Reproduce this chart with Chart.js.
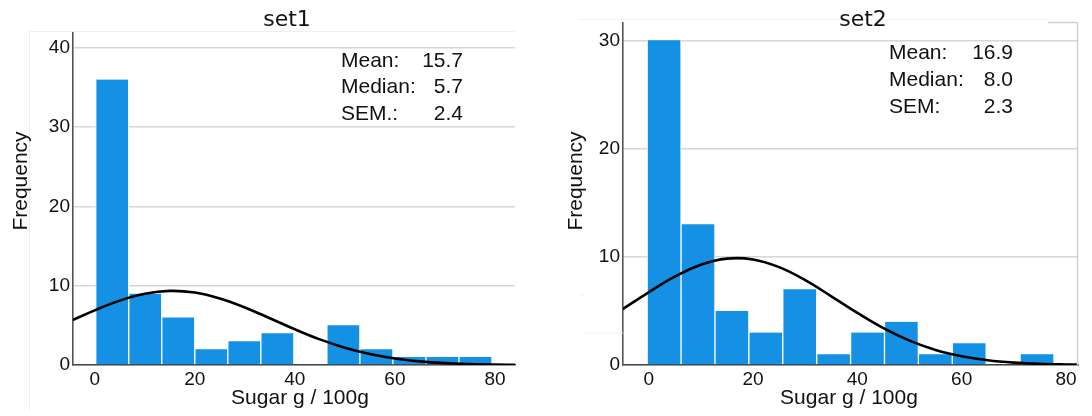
<!DOCTYPE html>
<html>
<head>
<meta charset="utf-8">
<script src="https://cdn.jsdelivr.net/npm/chart.js@4/dist/chart.umd.min.js"></script>
<style>
  html, body { margin: 0; padding: 0; background: #fff; }
  #wrap { position: relative; width: 1092px; height: 416px; }
  canvas { position: absolute; top: 0; }
  #c1 { left: 0; }
  #c2 { left: 546px; }
</style>
</head>
<body>
<div id="wrap">
  <canvas id="c1" width="546" height="416"></canvas>
  <canvas id="c2" width="546" height="416"></canvas>
</div>
<script>
// ---- data ----
const titles = ["set1", "set2"];
const xAxisTitle = "Sugar g / 100g";
const yAxisTitle = "Frequency";
const xTicks = [0, 20, 40, 60, 80];

const set1BinCenters = [3.5, 10.1, 16.7, 23.3, 29.9, 36.5, 43.1, 49.7, 56.3, 62.9, 69.5, 76.1];
const set1Counts     = [36, 9, 6, 2, 3, 4, 0, 5, 2, 1, 1, 1];
const set2BinCenters = [2.95, 9.45, 15.95, 22.45, 28.95, 35.45, 41.95, 48.45, 54.95, 61.45, 67.95, 74.45];
const set2Counts     = [30, 13, 5, 3, 7, 1, 3, 4, 1, 2, 0, 1];

const curveX     = [-5, 0, 5, 10, 15, 20, 25, 30, 35, 40, 45, 50, 55, 60, 65, 70, 75, 80, 85];
const set1CurveY = [5.50, 6.89, 8.12, 8.98, 9.35, 9.14, 8.40, 7.26, 5.90, 4.50, 3.23, 2.18, 1.38, 0.82, 0.46, 0.24, 0.12, 0.056, 0.024];
const set2CurveY = [5.17, 6.72, 8.16, 9.27, 9.83, 9.75, 9.04, 7.84, 6.35, 4.81, 3.40, 2.25, 1.39, 0.81, 0.44, 0.22, 0.10, 0.046, 0.019];

const statLabels = ["Mean:", "Median:", "SEM.:"];
const set1Stats  = ["15.7", "5.7", "2.4"];
const statLabels2 = ["Mean:", "Median:", "SEM:"];
const set2Stats  = ["16.9", "8.0", "2.3"];

const set1YTicks = [0, 10, 20, 30, 40];
const set2YTicks = [0, 10, 20, 30];

// ---- styling ----
const BAR_COLOR = "#1490e5";
const SANS = "'Liberation Sans', Arial, sans-serif";

function textPlugin(cfg) {
  return {
    id: "texts",
    afterDraw(chart) {
      const ctx = chart.ctx;
      ctx.save();
      ctx.strokeStyle = cfg.frameColor;
      ctx.lineWidth = 1;
      ctx.beginPath();
      cfg.frame.forEach(seg => { ctx.moveTo(seg[0], seg[1]); ctx.lineTo(seg[2], seg[3]); });
      ctx.stroke();
      if (cfg.strongFrame) {
        ctx.strokeStyle = "#cfcfcf";
        ctx.lineWidth = 1.5;
        ctx.beginPath();
        cfg.strongFrame.forEach(seg => { ctx.moveTo(seg[0], seg[1]); ctx.lineTo(seg[2], seg[3]); });
        ctx.stroke();
      }
      ctx.fillStyle = "#111";
      // title
      ctx.font = "22px 'DejaVu Sans', sans-serif";
      ctx.textAlign = "center";
      ctx.textBaseline = "alphabetic";
      ctx.fillText(cfg.title, cfg.titleX, cfg.titleBase);
      // x-axis title
      ctx.textBaseline = "middle";
      ctx.font = "21px " + SANS;
      ctx.fillText(xAxisTitle, cfg.xTitleX, cfg.xTitleY);
      // y-axis title
      ctx.save();
      ctx.translate(cfg.yTitleX, cfg.yTitleY);
      ctx.rotate(-Math.PI / 2);
      ctx.fillText(yAxisTitle, 0, 0);
      ctx.restore();
      // stats
      ctx.textBaseline = "alphabetic";
      ctx.font = "21px " + SANS;
      cfg.statLabels.forEach((lab, i) => {
        const y = cfg.statBase + i * cfg.statDy;
        ctx.textAlign = "left";
        ctx.fillText(lab, cfg.statLeft, y);
        ctx.textAlign = "right";
        ctx.fillText(cfg.statValues[i], cfg.statRight, y);
      });
      ctx.restore();
    }
  };
}

function makeChart(id, centers, counts, curveY, yMax, yTicks, xMin, xMax, yAxisW, pad, cfg) {
  const ctx = document.getElementById(id);
  return new Chart(ctx, {
    data: {
      datasets: [
        {
          type: "line",
          data: curveX.map((x, i) => ({ x: x, y: curveY[i] })),
          borderColor: "#000",
          borderWidth: 2.6,
          pointRadius: 0,
          tension: 0.4,
          fill: false,
          order: 0
        },
        {
          type: "bar",
          data: centers.map((x, i) => ({ x: x, y: counts[i] })),
          backgroundColor: BAR_COLOR,
          borderColor: "#ffffff",
          borderWidth: { left: 1, right: 1, top: 0, bottom: 0 },
          borderSkipped: false,
          barPercentage: 1,
          categoryPercentage: 1,
          order: 1
        }
      ]
    },
    options: {
      responsive: false,
      animation: false,
      devicePixelRatio: 1,
      layout: { padding: pad },
      plugins: { legend: { display: false }, tooltip: { enabled: false }, title: { display: false } },
      scales: {
        x: {
          type: "linear",
          offset: false,
          min: xMin,
          max: xMax,
          afterBuildTicks: (s) => { s.ticks = xTicks.map(v => ({ value: v })); },
          afterFit: (s) => { s.height = 51; },
          grid: { display: false, drawTicks: false, offset: false },
          border: { display: true, color: "#444", width: 1.6 },
          ticks: { color: "#111", font: { family: SANS, size: 19 }, padding: 3, maxRotation: 0 }
        },
        y: {
          type: "linear",
          min: 0,
          max: yMax,
          afterBuildTicks: (s) => { s.ticks = yTicks.map(v => ({ value: v })); },
          afterFit: (s) => { s.width = yAxisW; },
          grid: { color: "#d6d6d6", lineWidth: 1.6, drawTicks: false },
          border: { display: true, color: "#555", width: 1.6 },
          ticks: { color: "#111", font: { family: SANS, size: 19 }, padding: 3 }
        }
      }
    },
    plugins: [textPlugin(cfg)]
  });
}

makeChart("c1", set1BinCenters, set1Counts, set1CurveY, 42, set1YTicks, -4.34, 84.0, 73,
  { left: 0, right: 31, top: 32, bottom: 0 },
  {
    title: titles[0], titleX: 287, titleBase: 26,
    xTitleX: 300, xTitleY: 398, yTitleX: 21, yTitleY: 181,
    statLabels: statLabels, statValues: set1Stats, statLeft: 341, statRight: 463, statBase: 66.7, statDy: 26.7,
    frameColor: "#eeeeee",
    frame: [[29.5, 31.5, 515, 31.5], [29.5, 31.5, 29.5, 410]]
  });

makeChart("c2", set2BinCenters, set2Counts, set2CurveY, 31.6, set2YTicks, -4.93, 82.3, 77,
  { left: 0, right: 14, top: 23, bottom: 0 },
  {
    title: titles[1], titleX: 317, titleBase: 26,
    xTitleX: 303, xTitleY: 398, yTitleX: 30, yTitleY: 181,
    statLabels: statLabels2, statValues: set2Stats, statLeft: 343, statRight: 467, statBase: 59.3, statDy: 26.7,
    frameColor: "#f2f2f2",
    frame: [[33, 19.5, 502, 19.5], [33, 295, 39, 295], [39, 333, 77, 333]],
    strongFrame: [[502, 22.5, 531.5, 22.5], [531.5, 22.5, 531.5, 365]]
  });
</script>
</body>
</html>
